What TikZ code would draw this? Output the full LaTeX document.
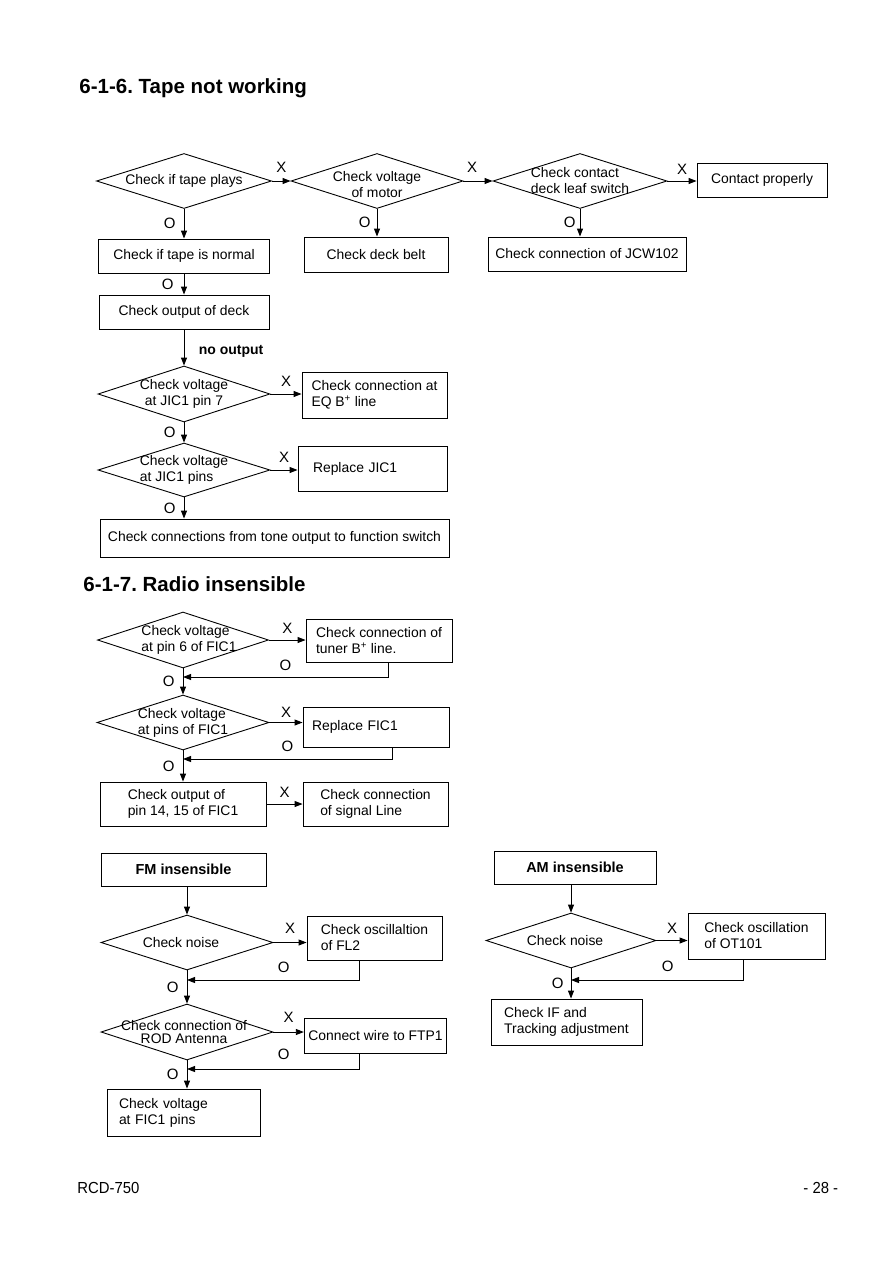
\documentclass[tikz,border=0pt]{standalone}
\usepackage{fontspec}
\setmainfont{Liberation Sans}
\newfontfamily\footfont[FakeStretch=0.93]{Liberation Sans}
\newfontfamily\headfont{Liberation Sans Bold}
\usetikzlibrary{shapes.geometric, arrows.meta}
\frenchspacing

\begin{document}
\begin{tikzpicture}[
    x=1pt, y=-1pt,
    line width=0.9pt,
    dia/.style={diamond, draw, inner sep=0pt, minimum width=172pt, minimum height=55pt},
    dtext/.style={font=\fontsize{13.9}{16}\selectfont, align=center},
    box/.style={rectangle, draw, align=left, inner xsep=10pt,
                font=\fontsize{13.9}{16}\selectfont},
    head/.style={font=\fontsize{20.5}{24}\selectfont\headfont, anchor=base west, inner sep=0pt},
    yn/.style={font=\fontsize{15}{15}\selectfont, inner sep=1pt},
    foot/.style={font=\fontsize{16}{18}\selectfont\footfont, anchor=base west, inner sep=0pt},
    arrow/.style={-{Triangle[length=8pt, width=6pt]}}
]
\fill[white] (0,0) rectangle (893,1263);
\useasboundingbox (0,0) rectangle (893,1263);

% 6-1-6
\node[head] (t1) at (79,93) {6-1-6. Tape not working};

\node[dia, minimum width=175pt, label={[dtext]center:Check if tape plays}] (d1) at (184,181) {};
\node[dia, label={[dtext, yshift=-4pt]center:{Check voltage\\of motor}}] (d2) at (377,181) {};
\node[dia, minimum width=174pt, label={[dtext, align=left]center:{Check contact\\deck leaf switch}}] (d3) at (580,181) {};
\node[box, minimum width=130pt, minimum height=34pt, align=center] (ok) at (762,180) {Contact properly};
\node[box, minimum width=198pt, minimum height=34pt, inner xsep=4pt] (jcw) at (587,254) {Check connection of JCW102};
\node[box, minimum width=144pt, minimum height=35pt] (belt) at (376,254.5) {Check deck belt};
\node[box, minimum width=171pt, minimum height=34pt] (norm) at (184,256) {Check if tape is normal};
\node[box, minimum width=170pt, minimum height=34pt] (deck) at (184,312) {Check output of deck};
\node[dia, minimum height=56pt, label={[dtext]center:{Check voltage\\at JIC1 pin 7}}] (d4) at (184,394) {};
\node[box, minimum width=145pt, minimum height=46pt, inner xsep=6pt] (eqb) at (374.5,395) {Check connection at\\EQ B\textsuperscript{+} line};
\node[dia, minimum height=54pt, label={[dtext, align=left]center:{Check voltage\\at JIC1 pins}}] (d5) at (184,470) {};
\node[box, text width=119pt, inner xsep=15pt, minimum height=45pt] (rjic) at (372.5,468.5) {Replace JIC1};
\node[box, minimum width=349pt, minimum height=38pt, inner xsep=4pt] (tone) at (274.5,538) {Check connections from tone output to function switch};

\draw[arrow] (d1) -- (d2) node[yn, midway, above=7pt] {X};
\draw[arrow] (d2) -- (d3) node[yn, pos=0.3, above=7pt] {X};
\draw[arrow] (d3) -- (d3 -| ok.west) node[yn, midway, above=5pt] {X};
\draw[arrow] (d1) -- (norm) node[yn, midway, left=7pt] {O};
\draw[arrow] (d2) -- (d2 |- belt.north) node[yn, midway, left=5pt] {O};
\draw[arrow] (d3) -- (d3 |- jcw.north) node[yn, midway, left=3pt] {O};
\draw[arrow] (norm) -- (deck) node[yn, midway, left=9pt] {O};
\draw[arrow] (deck) -- (d4)
    node[pos=0.6, right=11pt, font=\fontsize{14}{16}\selectfont\headfont] {no output};
\draw[arrow] (d4) -- (d4 -| eqb.west) node[yn, midway, above=6pt] {X};
\draw[arrow] (d4) -- (d5) node[yn, midway, left=7pt] {O};
\draw[arrow] (d5) -- (d5 -| rjic.west) node[yn, midway, above=6pt] {X};
\draw[arrow] (d5) -- (d5 |- tone.north) node[yn, midway, left=7pt] {O};

% 6-1-7
\node[head] (t2) at (83,591) {6-1-7. Radio insensible};

\node[dia, minimum width=171pt, minimum height=56pt,
      label={[dtext, align=left, xshift=6pt]center:{Check voltage\\at pin 6 of FIC1}}] (d6) at (183,640) {};
\node[box, minimum width=146pt, minimum height=43pt, inner xsep=6pt] (tuner) at (379,640.5) {Check connection of\\tuner B\textsuperscript{+} line.};
\coordinate (j6) at (183,677);
\node[dia, label={[dtext, align=left]center:{Check voltage\\at pins of FIC1}}] (d7) at (183,722.5) {};
\node[box, text width=128pt, inner xsep=9pt, minimum height=40pt] (rfic) at (376,727) {Replace FIC1};
\coordinate (j7) at (183,759);
\node[box, minimum width=166pt, minimum height=44pt] (pins) at (183,804) {Check output of\\pin 14, 15 of FIC1};
\node[box, minimum width=145pt, minimum height=44pt] (sig) at (375.5,804) {Check connection\\of signal Line};

\draw[arrow] (d6) -- (d6 -| tuner.west) node[yn, midway, above=5pt] {X};
\draw[arrow] ([xshift=9pt]tuner.south) |- (j6) node[yn, pos=0.75, above=5pt] {O};
\draw[arrow] (d6) -- (d7) node[yn, midway, left=7pt] {O};
\draw[arrow] (d7) -- (d7 -| rfic.west) node[yn, midway, above=4pt] {X};
\draw[arrow] ([xshift=16pt]rfic.south) |- (j7) node[yn, pos=0.75, above=6pt] {O};
\draw[arrow] (d7) -- (pins) node[yn, midway, left=7pt] {O};
\draw[arrow] (pins) -- (pins -| sig.west) node[yn, midway, above=5pt] {X};

% FM
\node[box, minimum width=165pt, minimum height=33pt, align=center,
      font=\fontsize{14.5}{16}\selectfont\headfont] (fm) at (183.5,869.5) {FM insensible};
\node[dia, label={[dtext, xshift=-6pt]center:Check noise}] (d8) at (187,942.5) {};
\node[box, minimum width=135pt, minimum height=44pt] (fl2) at (374.5,938) {Check oscillaltion\\of FL2};
\coordinate (j8) at (187,980);
\node[dia, minimum height=56pt,
      label={[dtext, font=\fontsize{13.9}{13}\selectfont, xshift=-3pt]center:{Check connection of\\ROD Antenna}}] (d9) at (187,1032) {};
\node[box, minimum width=137pt, minimum height=35pt, inner xsep=4pt] (ftp) at (375.5,1035.5) {Connect wire to FTP1};
\coordinate (j9) at (187,1069);
\node[box, text width=129pt, inner xsep=12pt, minimum height=47pt] (fic) at (183.5,1112.5) {Check voltage\\at FIC1 pins};

\draw[arrow] (fm.south -| d8) -- (d8);
\draw[arrow] (d8) -- (d8 -| fl2.west) node[yn, midway, above=8pt] {X};
\draw[arrow] ([xshift=-15pt]fl2.south) |- (j8) node[yn, pos=0.72, above=6pt] {O};
\draw[arrow] (d8) -- (d9) node[yn, midway, left=7pt] {O};
\draw[arrow] (d9) -- (d9 -| ftp.west) node[yn, midway, above=8pt] {X};
\draw[arrow] ([xshift=-16pt]ftp.south) |- (j9) node[yn, pos=0.72, above=8pt] {O};
\draw[arrow] (d9) -- (d9 |- fic.north) node[yn, midway, left=7pt] {O};

% AM
\node[box, minimum width=162pt, minimum height=33pt, align=center,
      font=\fontsize{14.5}{16}\selectfont\headfont] (am) at (575,867.5) {AM insensible};
\node[dia, minimum width=170pt, label={[dtext, xshift=-6pt]center:Check noise}] (d10) at (571,940.5) {};
\node[box, minimum width=137pt, minimum height=46pt] (ot) at (756.5,936) {Check oscillation\\of OT101};
\coordinate (j10) at (571,980);
\node[box, minimum width=151pt, minimum height=46pt] (ifadj) at (566.5,1022) {Check IF and\\Tracking adjustment};

\draw[arrow] (am.south -| d10) -- (d10);
\draw[arrow] (d10) -- (d10 -| ot.west) node[yn, midway, above=6pt] {X};
\draw[arrow] ([xshift=-13pt]ot.south) |- (j10) node[yn, pos=0.72, above=7pt] {O};
\draw[arrow] (d10) -- (d10 |- ifadj.north) node[yn, midway, left=6pt] {O};

% footer
\node[foot] (model) at (77,1193) {RCD-750};
\node[foot] (page) at (803,1193) {- 28 -};
\end{tikzpicture}
\end{document}
